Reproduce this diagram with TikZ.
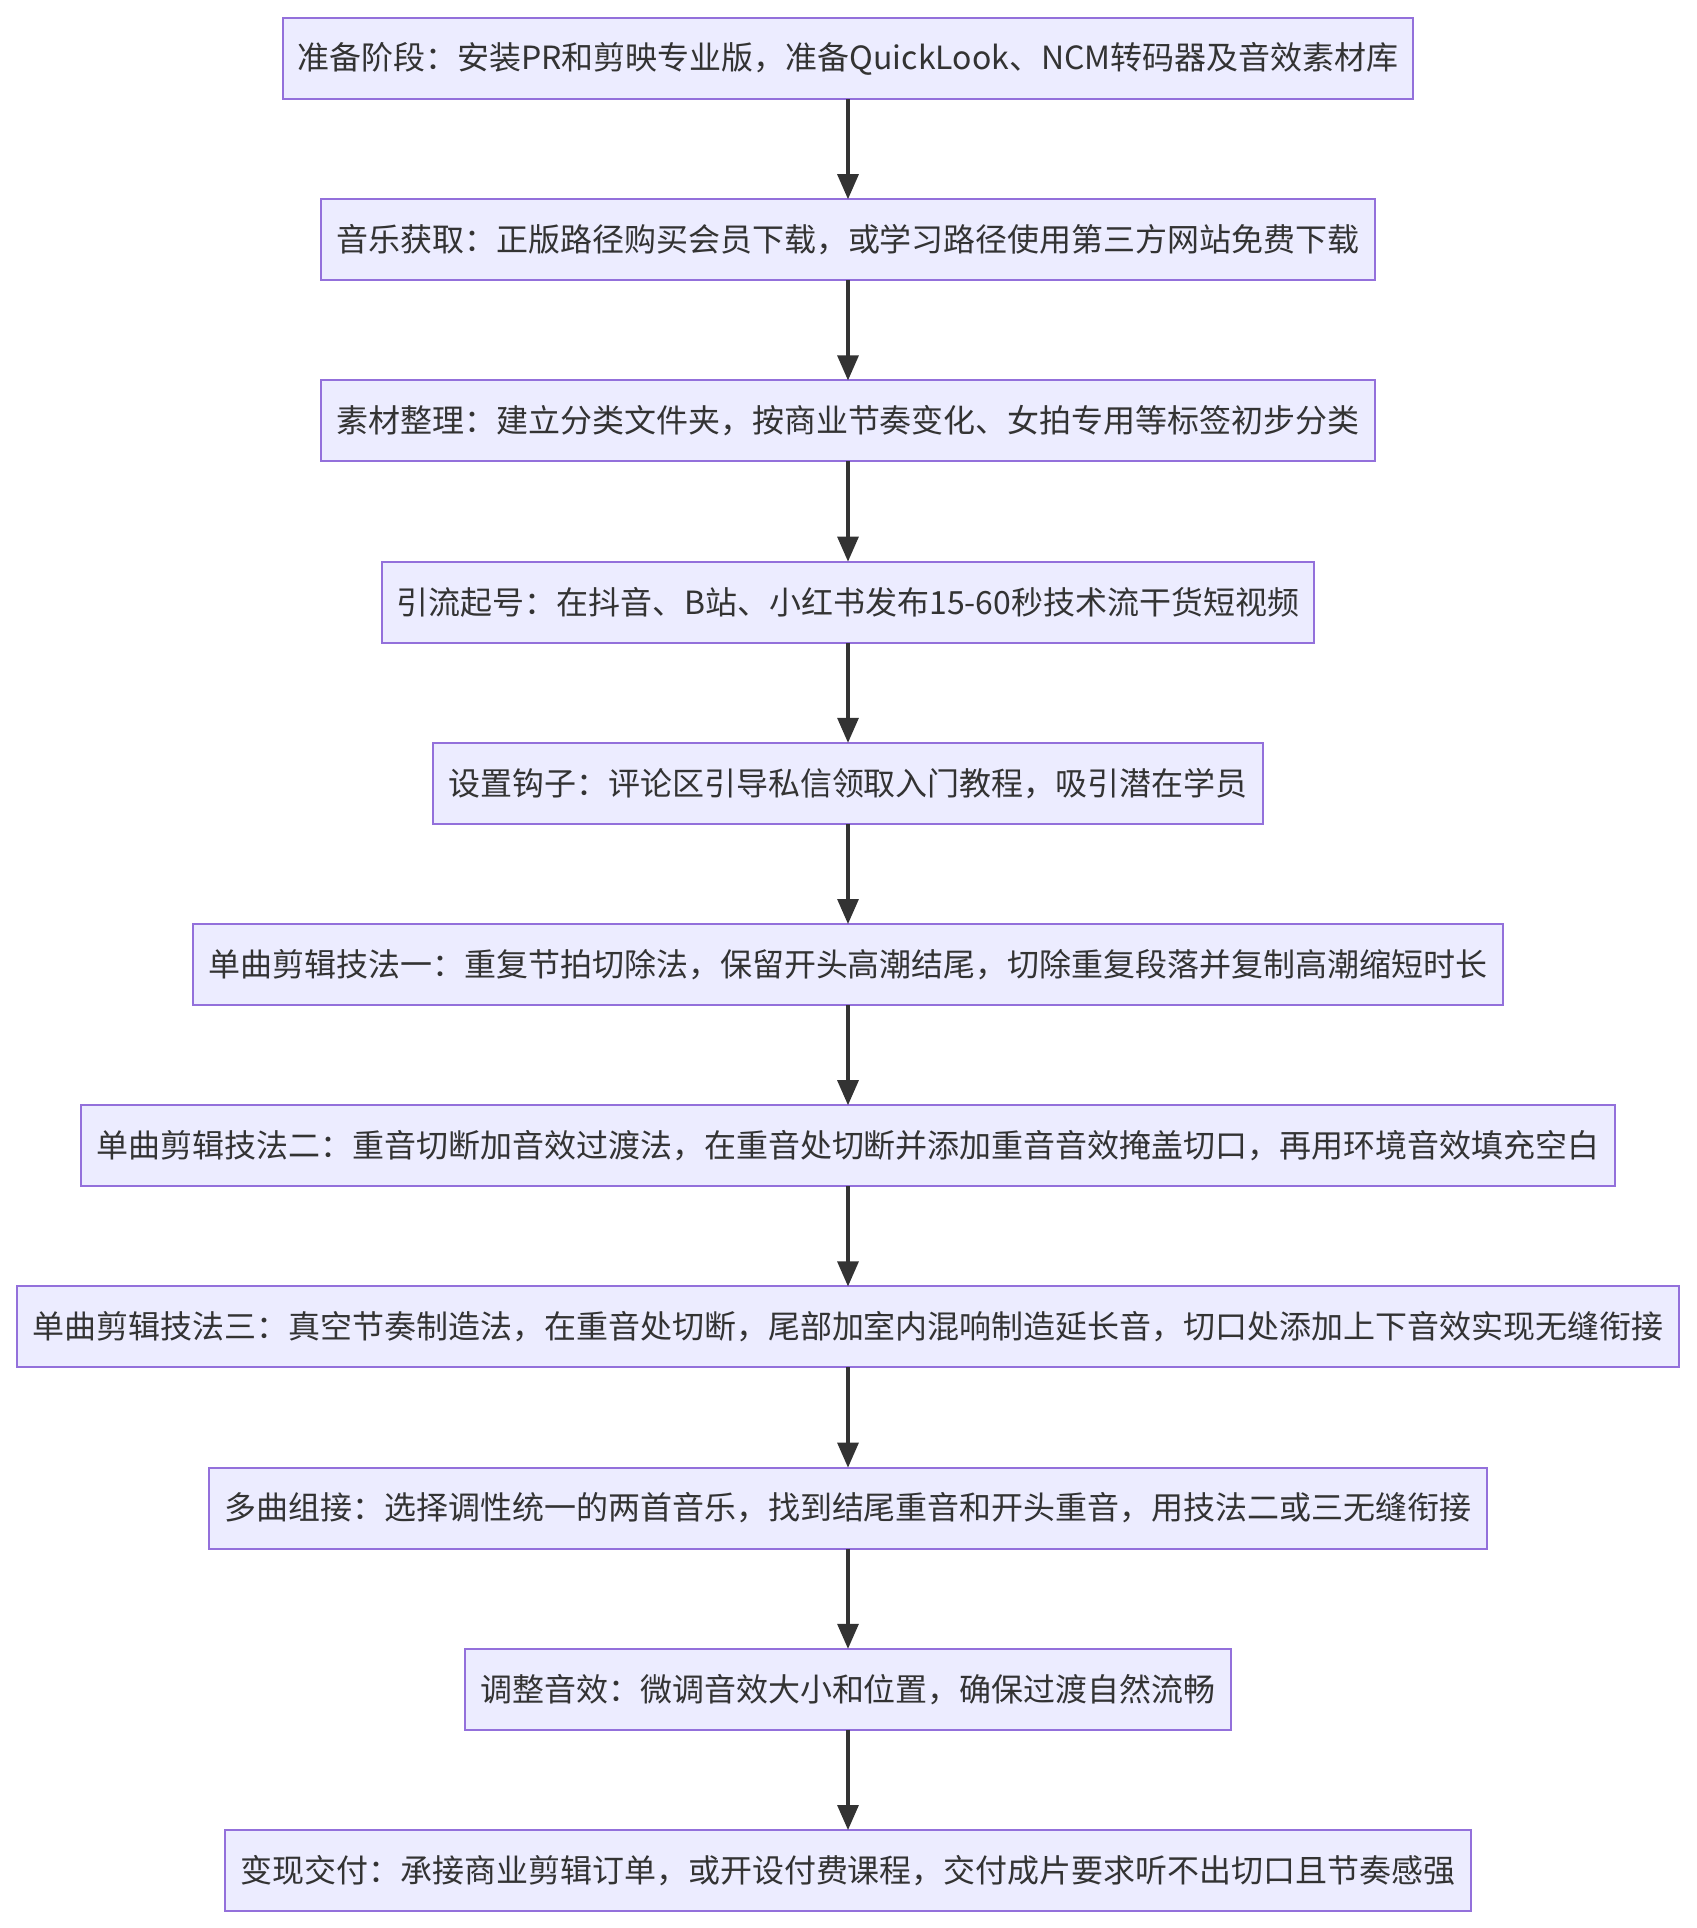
\documentclass[tikz,border=0pt]{standalone}
\usepackage{fontspec}
\setmainfont{Noto Sans CJK SC}
\usepackage{tikz}
\usetikzlibrary{arrows.meta,positioning}
\definecolor{stepfill}{HTML}{ECECFF}
\definecolor{stepline}{HTML}{9370DB}
\definecolor{ink}{HTML}{333333}

\begin{document}
\begin{tikzpicture}[>={Triangle[length=2.5mm,width=2.1mm]}, font=\fontsize{9.1}{11}\selectfont,
  node distance=10.02mm,
  stepbox/.style={draw=stepline, line width=0.55pt, fill=stepfill, text=ink, minimum height=8.1mm,
    inner xsep=1.5mm, inner ysep=0pt, outer sep=0pt},
  flow/.style={->, draw=ink, line width=0.9pt}]
\useasboundingbox (0,0) rectangle (16.96,-19.28);
\node[stepbox] (prep) at (8.48,-0.585) {准备阶段：安装PR和剪映专业版，准备QuickLook、NCM转码器及音效素材库};
\node[stepbox, below=of prep] (music) {音乐获取：正版路径购买会员下载，或学习路径使用第三方网站免费下载};
\node[stepbox, below=of music] (sort) {素材整理：建立分类文件夹，按商业节奏变化、女拍专用等标签初步分类};
\node[stepbox, below=of sort] (promo) {引流起号：在抖音、B站、小红书发布15-60秒技术流干货短视频};
\node[stepbox, below=of promo] (hook) {设置钩子：评论区引导私信领取入门教程，吸引潜在学员};
\node[stepbox, below=of hook] (techA) {单曲剪辑技法一：重复节拍切除法，保留开头高潮结尾，切除重复段落并复制高潮缩短时长};
\node[stepbox, below=of techA] (techB) {单曲剪辑技法二：重音切断加音效过渡法，在重音处切断并添加重音音效掩盖切口，再用环境音效填充空白};
\node[stepbox, below=of techB] (techC) {单曲剪辑技法三：真空节奏制造法，在重音处切断，尾部加室内混响制造延长音，切口处添加上下音效实现无缝衔接};
\node[stepbox, below=of techC] (multi) {多曲组接：选择调性统一的两首音乐，找到结尾重音和开头重音，用技法二或三无缝衔接};
\node[stepbox, below=of multi] (tune) {调整音效：微调音效大小和位置，确保过渡自然流畅};
\node[stepbox, below=of tune] (cash) {变现交付：承接商业剪辑订单，或开设付费课程，交付成片要求听不出切口且节奏感强};
\draw[flow] (prep) -- (music); \draw[flow] (music) -- (sort); \draw[flow] (sort) -- (promo);
\draw[flow] (promo) -- (hook); \draw[flow] (hook) -- (techA); \draw[flow] (techA) -- (techB);
\draw[flow] (techB) -- (techC); \draw[flow] (techC) -- (multi); \draw[flow] (multi) -- (tune);
\draw[flow] (tune) -- (cash);
\end{tikzpicture}
\end{document}
